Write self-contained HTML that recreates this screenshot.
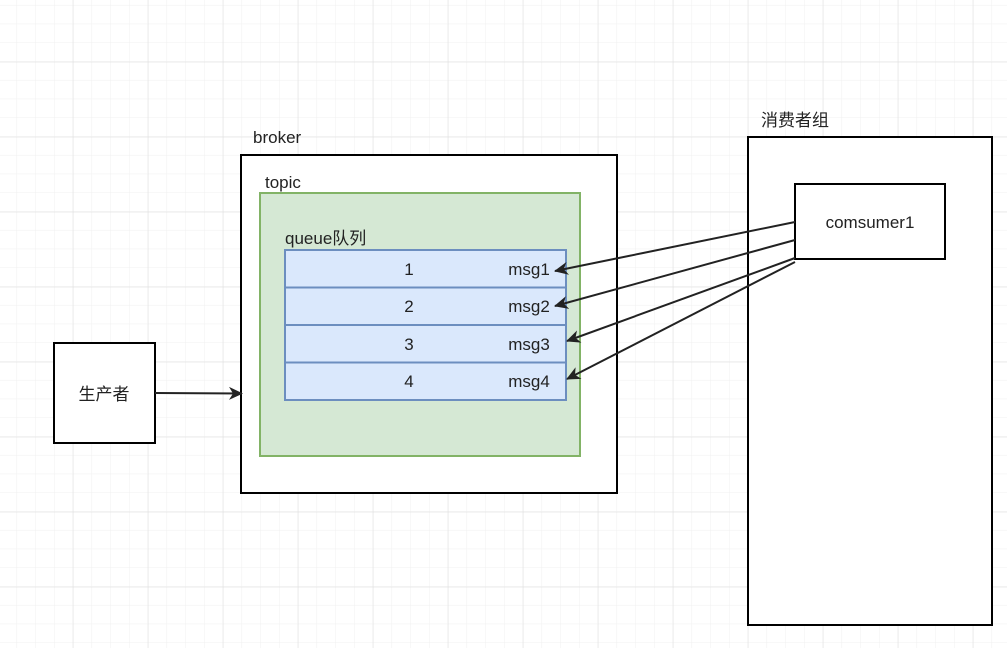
<!DOCTYPE html>
<html><head><meta charset="utf-8"><style>
body{margin:0;background:#fff}
text{font-family:"Liberation Sans","Noto Sans CJK SC",sans-serif;fill:#222}
</style></head><body>
<svg width="1007" height="648" xmlns="http://www.w3.org/2000/svg">
<defs>
<pattern id="mi" x="-1.7" y="-13.3" width="18.75" height="18.75" patternUnits="userSpaceOnUse">
<path d="M18.75 0V18.75M0 18.75H18.75" stroke="#f0f0f0" stroke-width="1" fill="none"/></pattern>
<pattern id="ma" x="-1.7" y="-12.7" width="75" height="75" patternUnits="userSpaceOnUse">
<path d="M75 0V75M0 75H75" stroke="#dddddd" stroke-width="1" fill="none"/></pattern>
<marker id="ar" markerWidth="14" markerHeight="14" refX="13" refY="7" orient="auto" markerUnits="userSpaceOnUse">
<path d="M0 0.5L14 7L0 13.5L4 7Z" fill="#222"/></marker>
</defs>
<rect width="1007" height="648" fill="url(#mi)"/>
<rect width="1007" height="648" fill="url(#ma)"/>
<text x="253" y="143" font-size="17">broker</text>
<rect x="241" y="155" width="376" height="338" fill="#fff" stroke="#000" stroke-width="2"/>
<text x="265" y="188" font-size="17">topic</text>
<rect x="260" y="193" width="320" height="263" fill="#d5e8d4" stroke="#82b366" stroke-width="2"/>
<text x="285" y="244" font-size="17">queue队列</text>
<g fill="#dae8fc" stroke="#6c8ebf" stroke-width="2">
<rect x="285" y="250" width="281" height="37.5"/>
<rect x="285" y="287.5" width="281" height="37.5"/>
<rect x="285" y="325" width="281" height="37.5"/>
<rect x="285" y="362.5" width="281" height="37.5"/>
</g>
<g font-size="17" text-anchor="middle">
<text x="409" y="275">1</text><text x="529" y="275">msg1</text>
<text x="409" y="312">2</text><text x="529" y="312">msg2</text>
<text x="409" y="350">3</text><text x="529" y="350">msg3</text>
<text x="409" y="387">4</text><text x="529" y="387">msg4</text>
</g>
<rect x="54" y="343" width="101" height="100" fill="#fff" stroke="#000" stroke-width="2"/>
<text x="104" y="400" font-size="17" text-anchor="middle">生产者</text>
<line x1="155" y1="393" x2="242" y2="393.5" stroke="#222" stroke-width="2" marker-end="url(#ar)"/>
<text x="761" y="126" font-size="17">消费者组</text>
<rect x="748" y="137" width="244" height="488" fill="#fff" stroke="#000" stroke-width="2"/>
<rect x="795" y="184" width="150" height="75" fill="#fff" stroke="#000" stroke-width="2"/>
<text x="870" y="228" font-size="17" text-anchor="middle">comsumer1</text>
<g stroke="#222" stroke-width="2" marker-end="url(#ar)">
<line x1="795" y1="222" x2="555" y2="271"/>
<line x1="795" y1="240" x2="555" y2="306"/>
<line x1="795" y1="258" x2="567" y2="341"/>
<line x1="795" y1="262" x2="567" y2="379"/>
</g>
</svg>
</body></html>
